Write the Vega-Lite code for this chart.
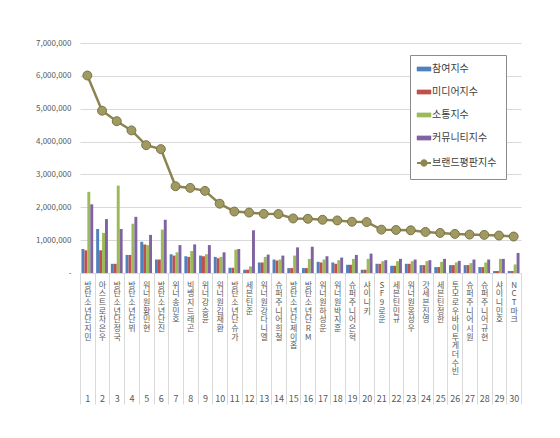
{
  "$schema": "https://vega.github.io/schema/vega-lite/v6.json",
  "width": 441,
  "height": 230,
  "autosize": {"type": "none"},
  "padding": {"left": 80, "top": 43, "right": 39, "bottom": 165},
  "background": "white",
  "config": {
    "view": {"stroke": null},
    "font": "Noto Sans CJK KR",
    "axis": {"labelFont": "Noto Sans CJK KR", "labelColor": "#595959", "title": null},
    "axisY": {
      "values": [0, 1000000, 2000000, 3000000, 4000000, 5000000, 6000000, 7000000],
      "labelExpr": "datum.value == 0 ? '-' : format(datum.value, ',')",
      "labelFontSize": 8, "labelPadding": 9, "ticks": false, "domain": false,
      "grid": true, "gridColor": "#d9d9d9"
    }
  },
  "data": {
    "values": [
      {"rank": 1, "name": "방탄소년단 지민", "참여지수": 730000, "미디어지수": 690000, "소통지수": 2470000, "커뮤니티지수": 2090000, "브랜드평판지수": 6010000},
      {"rank": 2, "name": "아스트로 차은우", "참여지수": 1340000, "미디어지수": 690000, "소통지수": 1220000, "커뮤니티지수": 1640000, "브랜드평판지수": 4940000},
      {"rank": 3, "name": "방탄소년단 정국", "참여지수": 280000, "미디어지수": 280000, "소통지수": 2660000, "커뮤니티지수": 1340000, "브랜드평판지수": 4620000},
      {"rank": 4, "name": "방탄소년단 뷔", "참여지수": 550000, "미디어지수": 550000, "소통지수": 1500000, "커뮤니티지수": 1710000, "브랜드평판지수": 4340000},
      {"rank": 5, "name": "워너원 황민현", "참여지수": 950000, "미디어지수": 870000, "소통지수": 850000, "커뮤니티지수": 1160000, "브랜드평판지수": 3890000},
      {"rank": 6, "name": "방탄소년단 진", "참여지수": 410000, "미디어지수": 410000, "소통지수": 1320000, "커뮤니티지수": 1620000, "브랜드평판지수": 3770000},
      {"rank": 7, "name": "위너 송민호", "참여지수": 570000, "미디어지수": 530000, "소통지수": 630000, "커뮤니티지수": 850000, "브랜드평판지수": 2640000},
      {"rank": 8, "name": "빅뱅 지드래곤", "참여지수": 510000, "미디어지수": 490000, "소통지수": 670000, "커뮤니티지수": 870000, "브랜드평판지수": 2590000},
      {"rank": 9, "name": "위너 강승윤", "참여지수": 530000, "미디어지수": 510000, "소통지수": 570000, "커뮤니티지수": 850000, "브랜드평판지수": 2500000},
      {"rank": 10, "name": "워너원 김재환", "참여지수": 490000, "미디어지수": 450000, "소통지수": 490000, "커뮤니티지수": 630000, "브랜드평판지수": 2110000},
      {"rank": 11, "name": "방탄소년단 슈가", "참여지수": 160000, "미디어지수": 160000, "소통지수": 710000, "커뮤니티지수": 730000, "브랜드평판지수": 1870000},
      {"rank": 12, "name": "세븐틴 준", "참여지수": 100000, "미디어지수": 100000, "소통지수": 200000, "커뮤니티지수": 1300000, "브랜드평판지수": 1840000},
      {"rank": 13, "name": "워너원 강다니엘", "참여지수": 320000, "미디어지수": 320000, "소통지수": 490000, "커뮤니티지수": 560000, "브랜드평판지수": 1800000},
      {"rank": 14, "name": "슈퍼주니어 희철", "참여지수": 410000, "미디어지수": 380000, "소통지수": 410000, "커뮤니티지수": 530000, "브랜드평판지수": 1795000},
      {"rank": 15, "name": "방탄소년단 제이홉", "참여지수": 150000, "미디어지수": 150000, "소통지수": 530000, "커뮤니티지수": 780000, "브랜드평판지수": 1660000},
      {"rank": 16, "name": "방탄소년단 RM", "참여지수": 150000, "미디어지수": 150000, "소통지수": 430000, "커뮤니티지수": 800000, "브랜드평판지수": 1650000},
      {"rank": 17, "name": "워너원 하성운", "참여지수": 340000, "미디어지수": 320000, "소통지수": 410000, "커뮤니티지수": 510000, "브랜드평판지수": 1620000},
      {"rank": 18, "name": "워너원 박지훈", "참여지수": 320000, "미디어지수": 280000, "소통지수": 390000, "커뮤니티지수": 470000, "브랜드평판지수": 1600000},
      {"rank": 19, "name": "슈퍼주니어 은혁", "참여지수": 250000, "미디어지수": 250000, "소통지수": 430000, "커뮤니티지수": 550000, "브랜드평판지수": 1560000},
      {"rank": 20, "name": "샤이니 키", "참여지수": 100000, "미디어지수": 100000, "소통지수": 430000, "커뮤니티지수": 590000, "브랜드평판지수": 1550000},
      {"rank": 21, "name": "SF9 로운", "참여지수": 280000, "미디어지수": 280000, "소통지수": 360000, "커뮤니티지수": 390000, "브랜드평판지수": 1320000},
      {"rank": 22, "name": "세븐틴 민규", "참여지수": 220000, "미디어지수": 220000, "소통지수": 360000, "커뮤니티지수": 430000, "브랜드평판지수": 1310000},
      {"rank": 23, "name": "워너원 옹성우", "참여지수": 280000, "미디어지수": 280000, "소통지수": 360000, "커뮤니티지수": 410000, "브랜드평판지수": 1300000},
      {"rank": 24, "name": "갓세븐 진영", "참여지수": 240000, "미디어지수": 240000, "소통지수": 360000, "커뮤니티지수": 390000, "브랜드평판지수": 1250000},
      {"rank": 25, "name": "세븐틴 정한", "참여지수": 180000, "미디어지수": 180000, "소통지수": 340000, "커뮤니티지수": 430000, "브랜드평판지수": 1220000},
      {"rank": 26, "name": "투모로우바이투게더 수빈", "참여지수": 240000, "미디어지수": 240000, "소통지수": 320000, "커뮤니티지수": 370000, "브랜드평판지수": 1190000},
      {"rank": 27, "name": "슈퍼주니어 시원", "참여지수": 240000, "미디어지수": 240000, "소통지수": 300000, "커뮤니티지수": 410000, "브랜드평판지수": 1170000},
      {"rank": 28, "name": "슈퍼주니어 규현", "참여지수": 180000, "미디어지수": 180000, "소통지수": 320000, "커뮤니티지수": 410000, "브랜드평판지수": 1160000},
      {"rank": 29, "name": "샤이니 민호", "참여지수": 60000, "미디어지수": 60000, "소통지수": 430000, "커뮤니티지수": 430000, "브랜드평판지수": 1140000},
      {"rank": 30, "name": "NCT 마크", "참여지수": 60000, "미디어지수": 60000, "소통지수": 260000, "커뮤니티지수": 610000, "브랜드평판지수": 1110000}
    ]
  },
  "layer": [
    {
      "transform": [{"fold": ["참여지수", "미디어지수", "소통지수", "커뮤니티지수"], "as": ["key", "value"]}],
      "mark": {"type": "bar"},
      "encoding": {
        "x": {
          "field": "rank", "type": "ordinal",
          "scale": {"paddingInner": 0, "paddingOuter": 0},
          "axis": {
            "orient": "bottom",
            "labelAngle": 0, "labelFontSize": 9, "labelPadding": -10,
            "tickBand": "extent", "tickSize": 131, "tickColor": "#d9d9d9",
            "domainColor": "#d9d9d9", "labelOverlap": false
          }
        },
        "xOffset": {
          "field": "key", "type": "nominal",
          "scale": {"domain": ["참여지수", "미디어지수", "소통지수", "커뮤니티지수"], "paddingInner": 0, "paddingOuter": 0.5}
        },
        "y": {
          "field": "value", "type": "quantitative",
          "scale": {"domain": [0, 7000000]}
        },
        "color": {
          "field": "key", "type": "nominal",
          "scale": {
            "domain": ["참여지수", "미디어지수", "소통지수", "커뮤니티지수", "브랜드평판지수"],
            "range": ["#4f81bd", "#c0504d", "#9bbb59", "#8064a2", "#948a54"]
          },
          "legend": {
            "title": null, "orient": "none", "legendX": 330, "legendY": 12,
            "fillColor": "white", "strokeColor": "#8c8c8c", "padding": 9,
            "symbolType": "M-1,-0.3H1V0.3H-1Z", "symbolSize": 196,
            "labelFont": "Noto Sans CJK KR", "labelFontSize": 10, "labelColor": "#404040",
            "labelOffset": 3, "rowPadding": 13,
            "encode": {
              "symbols": {
                "update": {
                  "shape": {"signal": "datum.value == '브랜드평판지수' ? 'M-1,0H1M0.38,0A0.38,0.38 0 1,1 -0.38,0A0.38,0.38 0 1,1 0.38,0' : 'M-1,-0.3H1V0.3H-1Z'"},
                  "fill": {"signal": "datum.value == '브랜드평판지수' ? '#a09a62' : scale('color', datum.value)"},
                  "stroke": {"signal": "datum.value == '브랜드평판지수' ? '#8c8451' : scale('color', datum.value)"},
                  "strokeWidth": {"signal": "datum.value == '브랜드평판지수' ? 2 : 0.5"},
                  "opacity": {"value": 1}
                }
              }
            }
          }
        }
      }
    },
    {
      "layer": [
        {
          "mark": {"type": "line", "color": "#8c8451", "strokeWidth": 2.5},
          "encoding": {
            "x": {
              "field": "name", "type": "nominal", "sort": null,
              "scale": {"paddingInner": 0, "paddingOuter": 0},
              "axis": {
                "orient": "bottom",
                "labelAngle": 0, "labelExpr": "split(datum.label, '')",
                "labelFontSize": 8, "labelLineHeight": 8.7, "labelPadding": 8,
                "labelBaseline": "top", "ticks": false, "domain": false, "grid": false,
                "labelOverlap": false, "labelBound": false
              }
            },
            "y": {"field": "브랜드평판지수", "type": "quantitative"}
          }
        },
        {
          "mark": {"type": "point", "filled": true, "fill": "#a09a62", "stroke": "#7a7344", "strokeWidth": 1, "size": 80, "opacity": 1},
          "encoding": {
            "x": {"field": "name", "type": "nominal", "sort": null},
            "y": {"field": "브랜드평판지수", "type": "quantitative"}
          }
        }
      ]
    }
  ],
  "resolve": {"scale": {"x": "independent"}, "axis": {"x": "independent"}}
}
